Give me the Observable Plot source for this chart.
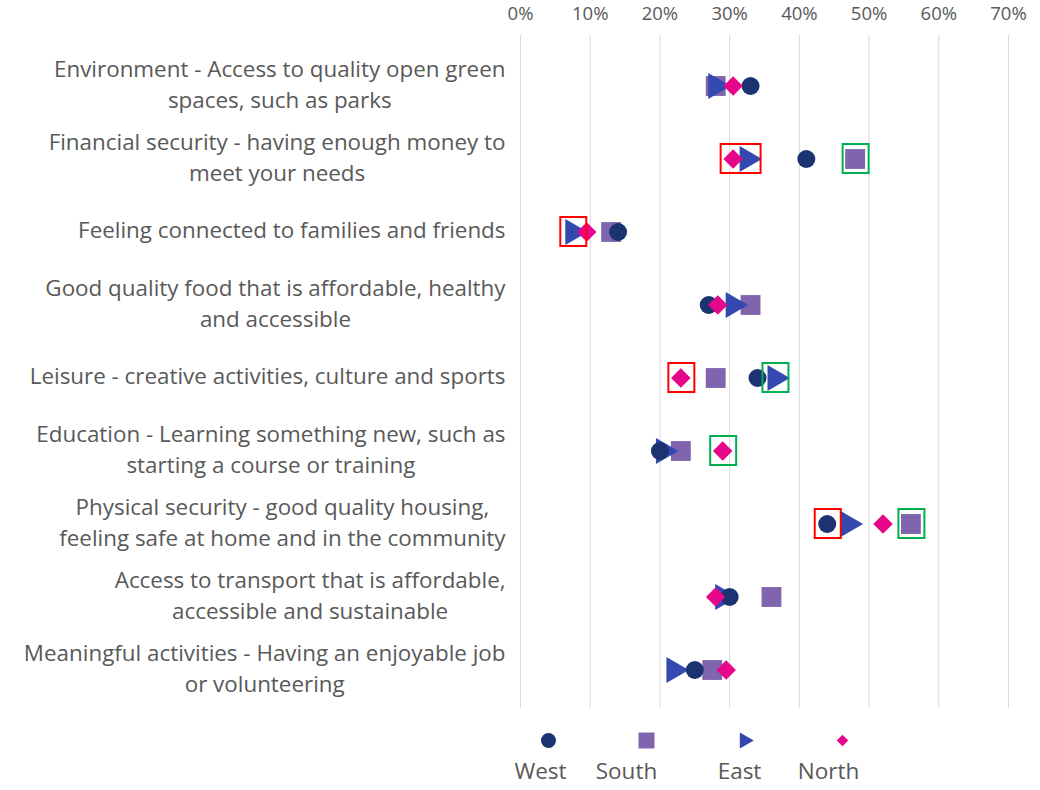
<!DOCTYPE html>
<html>
<head>
<meta charset="utf-8">
<script src="https://cdn.jsdelivr.net/npm/d3@7"></script>
<script src="https://cdn.jsdelivr.net/npm/@observablehq/plot@0.6"></script>
<style>
  body { margin: 0; background: #fff; }
  #chart { width: 1040px; }
  svg { display: block; }
</style>
</head>
<body>
<div id="chart"></div>
<script>
// ---- data ----
const categories = [
  "Environment - Access to quality open green spaces, such as parks",
  "Financial security - having enough money to meet your needs",
  "Feeling connected to families and friends",
  "Good quality food that is affordable, healthy and accessible",
  "Leisure - creative activities, culture and sports",
  "Education - Learning something new, such as starting a course or training",
  "Physical security - good quality housing, feeling safe at home and in the community",
  "Access to transport that is affordable, accessible and sustainable",
  "Meaningful activities - Having an enjoyable job or volunteering"
];
const categoryLabels = [
  "Environment - Access to quality open green\nspaces, such as parks",
  "Financial security - having enough money to\nmeet your needs",
  "Feeling connected to families and friends",
  "Good quality food that is affordable, healthy\nand accessible",
  "Leisure - creative activities, culture and sports",
  "Education - Learning something new, such as\nstarting a course or training",
  "Physical security - good quality housing,\nfeeling safe at home and in the community",
  "Access to transport that is affordable,\naccessible and sustainable",
  "Meaningful activities - Having an enjoyable job\nor volunteering"
];
const regions = ["West", "South", "East", "North"];
const west  = [33, 41, 14, 27, 34, 20, 44, 30, 25];
const south = [28, 48, 13, 33, 28, 23, 56, 36, 27.5];
const east  = [28, 32.5, 7.5, 30.5, 36.5, 20.5, 47, 29, 22];
const north = [30.5, 30.5, 9.5, 28.3, 23, 29, 52, 28, 29.5];
const xTicks = [0, 10, 20, 30, 40, 50, 60, 70];
// highlighted markers: category index, regions boxed, kind (low = red, high = green)
const highlightCategory = [1, 1, 2, 4, 4, 5, 6, 6];
const highlightRegions  = [["North", "East"], ["South"], ["East"], ["North"], ["East"], ["North"], ["West"], ["South"]];
const highlightKind     = ["low", "high", "low", "low", "high", "high", "low", "high"];

// ---- styles ----
const colors  = {West: "#1b3370", South: "#8064ad", East: "#3448b0", North: "#e6068a"};
const symbols = {West: "circle", South: "square", East: "triangle", North: "diamond2"};
const rotates = {West: 0, South: 0, East: 90, North: 0};
const sizes   = {West: 9, South: 11.2, East: 9.6, North: 8.8};
const legendSizes = {West: 7.5, South: 9, East: 6, North: 5.2};
const legendDx = {West: -8, South: -20, East: -5, North: -14};
const kindColor = {low: "#ff0000", high: "#00b050"};
const font = "'Open Sans', sans-serif";
const labelSize = 22.4;
const textColor = "#595959";

const seriesValues = {West: west, South: south, East: east, North: north};
const drawOrder = ["North", "East", "South", "West"];
const points = drawOrder.flatMap(r => categories.map((c, i) => ({category: c, region: r, value: seriesValues[r][i]})));
const highlights = highlightCategory.map((ci, k) => {
  const vals = highlightRegions[k].map(r => seriesValues[r][ci]);
  return {category: categories[ci], x1: d3.min(vals), x2: d3.max(vals), kind: highlightKind[k]};
});

// measure label block widths so each multi-line label is centred within its block
const ctx = document.createElement("canvas").getContext("2d");
ctx.font = `${labelSize}px 'Open Sans'`;
const blockWidths = categoryLabels.map(l => d3.max(l.split("\n"), s => ctx.measureText(s).width));

const labelMarks = categories.map((c, i) => Plot.text([c], {
  y: d => d, frameAnchor: "left", text: () => categoryLabels[i],
  textAnchor: "middle", dx: -(15 + blockWidths[i] / 2), dy: -3.5,
  fontSize: labelSize, fill: textColor, lineHeight: 1.39
}));

const main = Plot.plot({
  width: 1040,
  height: 715,
  marginLeft: 520,
  marginRight: 32,
  marginTop: 35,
  marginBottom: 7,
  style: {fontFamily: font, background: "#fff"},
  x: {domain: [0, 70]},
  y: {type: "band", domain: categories, padding: 0, insetTop: 12, axis: null},
  symbol: {type: "identity"},
  r: {type: "identity"},
  marks: [
    Plot.gridX(xTicks, {stroke: "#d9d9d9", strokeOpacity: 1, strokeWidth: 1}),
    Plot.axisX({anchor: "top", ticks: xTicks, tickSize: 0, tickPadding: 16, tickFormat: d => d + "%",
                fontSize: 18.5, fill: textColor, label: null}),
    ...labelMarks,
    Plot.dot(points, {
      x: "value", y: "category",
      symbol: d => symbols[d.region],
      fill: d => colors[d.region],
      r: d => sizes[d.region],
      rotate: d => rotates[d.region],
      stroke: "none"
    }),
    Plot.barX(highlights, {
      x1: "x1", x2: "x2", y: "category",
      fill: "none", stroke: d => kindColor[d.kind], strokeWidth: 2,
      insetLeft: -12, insetRight: -14, insetTop: 22, insetBottom: 22
    })
  ]
});

const legendPts = regions.map(r => ({region: r}));
const legend = Plot.plot({
  width: 1040,
  height: 75,
  margin: 0,
  style: {fontFamily: font, background: "#fff"},
  x: {type: "point", domain: regions, range: [548, 842], padding: 0, axis: null},
  y: {domain: [0, 1], range: [25, 56], axis: null},
  symbol: {type: "identity"},
  r: {type: "identity"},
  marks: [
    Plot.dot(legendPts, {
      x: "region", y: () => 0,
      symbol: d => symbols[d.region], fill: d => colors[d.region],
      r: d => legendSizes[d.region], rotate: d => rotates[d.region]
    }),
    ...regions.map(r => Plot.text([r], {
      x: d => d, y: () => 1, text: d => d, dx: legendDx[r],
      fontSize: 22.5, fill: textColor, lineAnchor: "middle"
    }))
  ]
});

const root = document.getElementById("chart");
root.appendChild(main);
root.appendChild(legend);
</script>
</body>
</html>
